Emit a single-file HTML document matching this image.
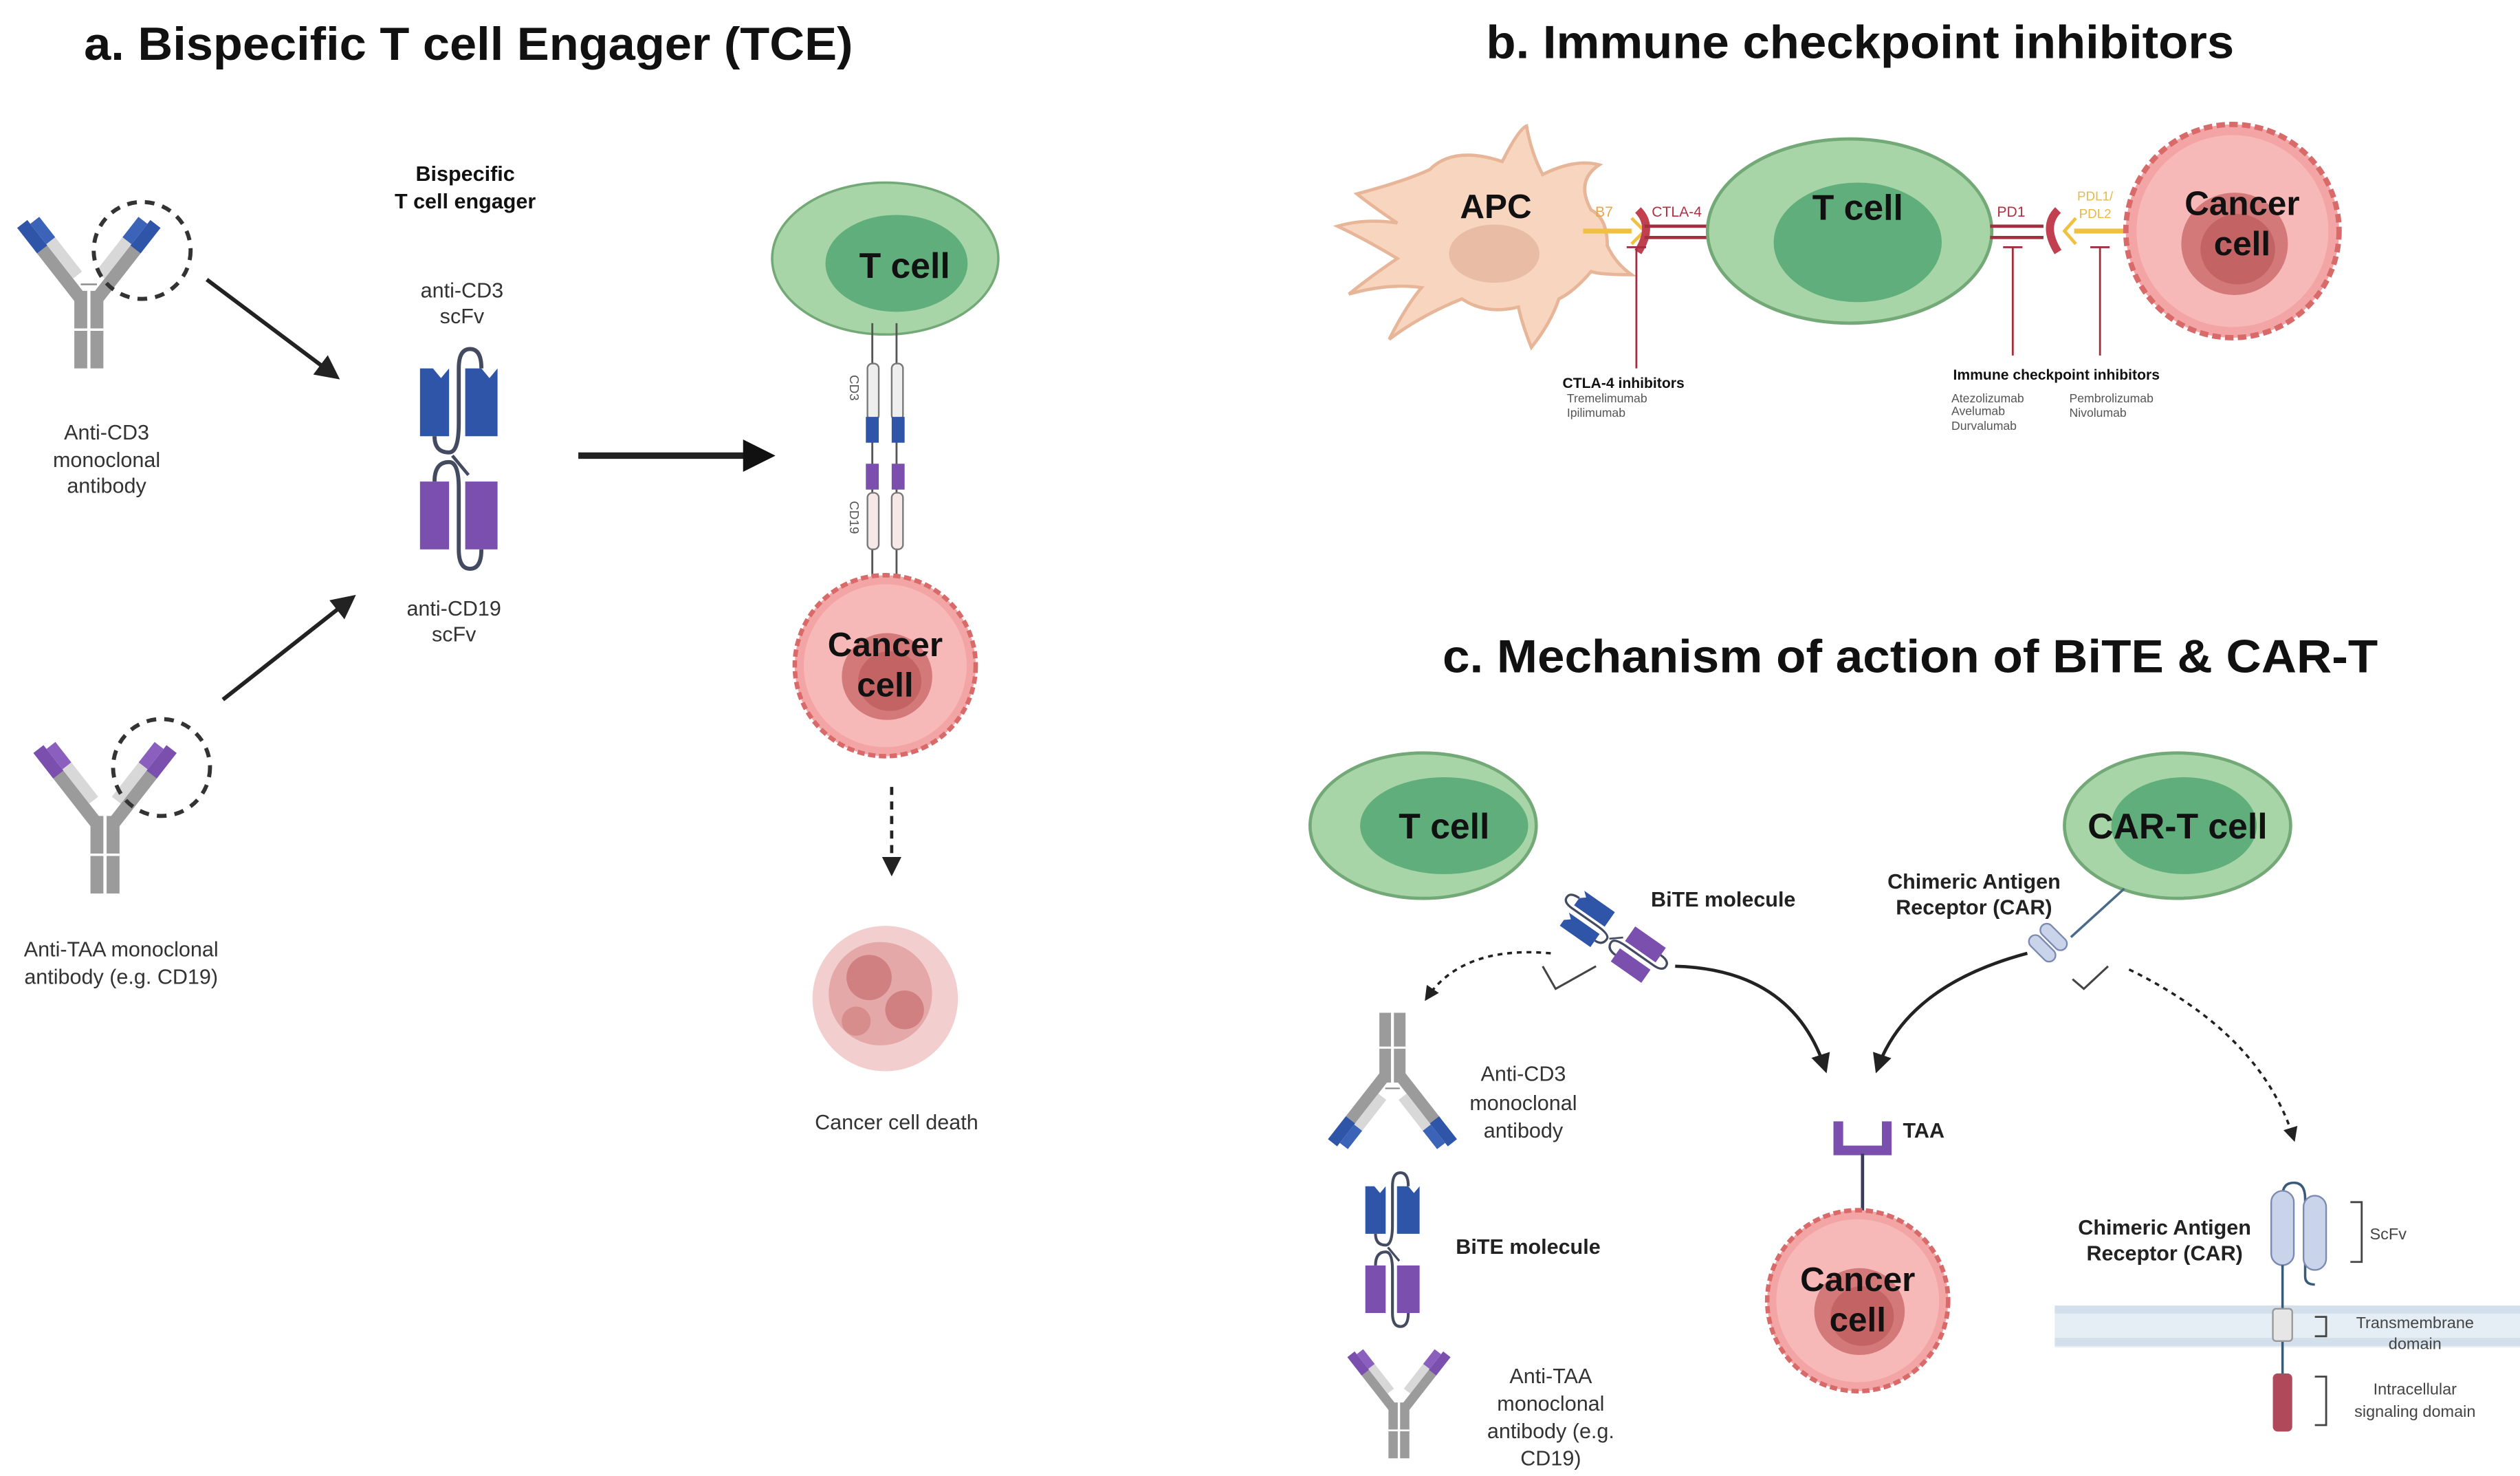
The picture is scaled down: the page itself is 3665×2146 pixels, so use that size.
<!DOCTYPE html>
<html><head><meta charset="utf-8"><style>
html,body{margin:0;padding:0;background:#fff;}
svg{display:block}
text{font-family:"Liberation Sans",sans-serif;}
</style></head><body>
<svg width="3665" height="2146" viewBox="0 0 1560 913.5" preserveAspectRatio="none" xmlns="http://www.w3.org/2000/svg">
<defs>
<marker id="ah" viewBox="0 0 10 10" refX="8" refY="5" markerWidth="6" markerHeight="6" orient="auto"><path d="M0,0 L10,5 L0,10 z" fill="#222"/></marker>
<marker id="ahb" viewBox="0 0 10 10" refX="8" refY="5" markerWidth="5" markerHeight="5" orient="auto"><path d="M0,0 L10,5 L0,10 z" fill="#111"/></marker>
<g id="abBlue">
 <rect x="-9" y="0" width="8" height="48" fill="#9b9b9b"/><rect x="1" y="0" width="8" height="48" fill="#9b9b9b"/>
 <line x1="-9" y1="24" x2="9" y2="24" stroke="#fff" stroke-width="1.5"/>
 <line x1="-5" y1="-4" x2="5" y2="-4" stroke="#888" stroke-width="1"/>
 <g transform="rotate(-38)"><rect x="-11" y="-40" width="8" height="40" fill="#9b9b9b"/><rect x="-3" y="-40" width="7" height="28" fill="#d8d8d8"/><rect x="-11" y="-58" width="8" height="20" fill="#2f55a8"/><rect x="-3" y="-55" width="7" height="16" fill="#3b63b8"/></g>
 <g transform="rotate(38)"><rect x="3" y="-40" width="8" height="40" fill="#9b9b9b"/><rect x="-4" y="-40" width="7" height="28" fill="#d8d8d8"/><rect x="3" y="-58" width="8" height="20" fill="#2f55a8"/><rect x="-4" y="-55" width="7" height="16" fill="#3b63b8"/></g>
</g>
<g id="abPurple">
 <rect x="-9" y="0" width="8" height="48" fill="#9b9b9b"/><rect x="1" y="0" width="8" height="48" fill="#9b9b9b"/>
 <line x1="-9" y1="24" x2="9" y2="24" stroke="#fff" stroke-width="1.5"/>
 <g transform="rotate(-38)"><rect x="-11" y="-40" width="8" height="40" fill="#9b9b9b"/><rect x="-3" y="-40" width="7" height="28" fill="#d8d8d8"/><rect x="-11" y="-58" width="8" height="20" fill="#7a4fae"/><rect x="-3" y="-55" width="7" height="16" fill="#8a5fbe"/></g>
 <g transform="rotate(38)"><rect x="3" y="-40" width="8" height="40" fill="#9b9b9b"/><rect x="-4" y="-40" width="7" height="28" fill="#d8d8d8"/><rect x="3" y="-58" width="8" height="20" fill="#7a4fae"/><rect x="-4" y="-55" width="7" height="16" fill="#8a5fbe"/></g>
</g>
<g id="bite">
 <path d="M-24,-44 L-24,-2 L-6,-2 L-6,-44 L-11,-38 L-16,-44 z" fill="#2f55a8"/>
 <path d="M4,-44 L4,-2 L24,-2 L24,-44 L19,-38 L14,-44 z" fill="#2f55a8"/>
 <path d="M-15,-2 Q-15,8 -6,8 Q0,8 0,-10 L0,-44 Q0,-56 7,-56 Q14,-56 14,-44" fill="none" stroke="#444a60" stroke-width="2.5"/>
 <line x1="-4" y1="10" x2="6" y2="22" stroke="#444a60" stroke-width="2"/>
 <path d="M-24,26 L-24,68 L-6,68 L-6,26 z" fill="#7a4fae"/>
 <path d="M4,26 L4,68 L24,68 L24,26 z" fill="#7a4fae"/>
 <path d="M-15,26 Q-15,14 -6,14 Q0,14 0,30 L0,68 Q0,80 7,80 Q14,80 14,68" fill="none" stroke="#444a60" stroke-width="2.5"/>
</g>
<g id="cancer">
 <circle r="1" fill="#f3a5a5" stroke="#d86a6a" stroke-width="0.05" stroke-dasharray="0.08 0.04"/>
 <circle r="0.9" fill="#f6b9b7"/>
 <ellipse cx="0.02" cy="0.12" rx="0.5" ry="0.48" fill="#d4797a"/>
 <ellipse cx="0.05" cy="0.17" rx="0.35" ry="0.33" fill="#c36364"/>
</g>
</defs>

<!-- Titles -->
<text x="52" y="37" font-size="29" font-weight="bold" fill="#111" textLength="476" lengthAdjust="spacingAndGlyphs">a. Bispecific T cell Engager (TCE)</text>
<text x="920" y="36" font-size="29" font-weight="bold" fill="#111" textLength="463" lengthAdjust="spacingAndGlyphs">b. Immune checkpoint inhibitors</text>
<text x="893" y="416" font-size="29" font-weight="bold" fill="#111" textLength="579" lengthAdjust="spacingAndGlyphs">c. Mechanism of action of BiTE &amp; CAR-T</text>

<!-- Panel a -->
<use href="#abBlue" transform="translate(55,180)"/>
<circle cx="88" cy="155" r="30" fill="none" stroke="#333" stroke-width="2.5" stroke-dasharray="6 5"/>
<text font-size="13" fill="#333" text-anchor="middle"><tspan x="66" y="272">Anti-CD3</tspan><tspan x="66" y="289">monoclonal</tspan><tspan x="66" y="305">antibody</tspan></text>
<line x1="128" y1="173" x2="208" y2="233" stroke="#222" stroke-width="2.5" marker-end="url(#ah)"/>
<use href="#abPurple" transform="translate(65,505)"/>
<circle cx="100" cy="475" r="30" fill="none" stroke="#333" stroke-width="2.5" stroke-dasharray="6 5"/>
<text font-size="13" fill="#333" text-anchor="middle"><tspan x="75" y="592">Anti-TAA monoclonal</tspan><tspan x="75" y="609">antibody (e.g. CD19)</tspan></text>
<line x1="138" y1="433" x2="218" y2="370" stroke="#222" stroke-width="2.5" marker-end="url(#ah)"/>
<text font-size="13" font-weight="bold" fill="#111" text-anchor="middle"><tspan x="288" y="112">Bispecific</tspan><tspan x="288" y="129">T cell engager</tspan></text>
<text font-size="13" fill="#333" text-anchor="middle"><tspan x="286" y="184">anti-CD3</tspan><tspan x="286" y="200">scFv</tspan></text>
<use href="#bite" transform="translate(284,272)"/>
<text font-size="13" fill="#333" text-anchor="middle"><tspan x="281" y="381">anti-CD19</tspan><tspan x="281" y="397">scFv</tspan></text>
<line x1="358" y1="282" x2="476" y2="282" stroke="#222" stroke-width="4" marker-end="url(#ahb)"/>
<ellipse cx="548" cy="160" rx="70" ry="47" fill="#a8d5a8" stroke="#73a877" stroke-width="1.5"/>
<ellipse cx="555" cy="163" rx="44" ry="30" fill="#5fae7c"/>
<text x="560" y="172" font-size="22" font-weight="bold" fill="#111" text-anchor="middle">T cell</text>
<line x1="540" y1="200" x2="540" y2="362" stroke="#555" stroke-width="1.2"/>
<line x1="555" y1="200" x2="555" y2="362" stroke="#555" stroke-width="1.2"/>
<rect x="537" y="225" width="7" height="35" rx="3" fill="#eee" stroke="#777"/>
<rect x="552" y="225" width="7" height="35" rx="3" fill="#eee" stroke="#777"/>
<rect x="536" y="258" width="8" height="16" fill="#2f55a8"/><rect x="552" y="258" width="8" height="16" fill="#2f55a8"/>
<rect x="536" y="287" width="8" height="16" fill="#7a4fae"/><rect x="552" y="287" width="8" height="16" fill="#7a4fae"/>
<rect x="537" y="305" width="7" height="35" rx="3" fill="#f7e8e8" stroke="#777"/>
<rect x="552" y="305" width="7" height="35" rx="3" fill="#f7e8e8" stroke="#777"/>
<text font-size="8" fill="#555" transform="translate(526,232) rotate(90)">CD3</text>
<text font-size="8" fill="#555" transform="translate(526,310) rotate(90)">CD19</text>
<use href="#cancer" transform="translate(548,412) scale(56)"/>
<text font-size="21" font-weight="bold" fill="#111" text-anchor="middle"><tspan x="548" y="406">Cancer</tspan><tspan x="548" y="431">cell</tspan></text>
<line x1="552" y1="487" x2="552" y2="540" stroke="#222" stroke-width="2" stroke-dasharray="5 4" marker-end="url(#ah)"/>
<g opacity="0.85">
<circle cx="548" cy="618" r="45" fill="#f1c6c6"/>
<circle cx="545" cy="615" r="32" fill="#e09a9a"/>
<circle cx="538" cy="605" r="14" fill="#c86a6a"/><circle cx="560" cy="625" r="12" fill="#c86a6a"/><circle cx="530" cy="632" r="9" fill="#d27a7a"/>
</g>
<text x="555" y="699" font-size="13" fill="#333" text-anchor="middle">Cancer cell death</text>

<!-- Panel b -->
<path d="M840,120 Q870,112 885,105 Q900,90 930,100 Q940,80 945,78 Q948,95 955,108 Q975,98 990,102 Q975,112 985,130 Q995,135 995,152 Q1000,163 1010,170 Q990,170 985,168 Q975,180 965,185 Q960,200 948,215 Q942,200 940,190 Q920,195 905,185 Q880,195 860,210 Q870,190 880,178 Q860,175 835,182 Q850,170 865,160 Q845,148 828,140 Q845,135 865,138 Q850,128 840,120z" fill="#f8d5bf" stroke="#e7b699" stroke-width="2"/>
<ellipse cx="925" cy="157" rx="28" ry="18" fill="#e8bca5"/>
<text x="926" y="135" font-size="21" font-weight="bold" fill="#111" text-anchor="middle">APC</text>
<line x1="980" y1="143" x2="1010" y2="143" stroke="#f0c040" stroke-width="3"/>
<path d="M1010,135 L1018,143 L1010,151" fill="none" stroke="#f0c040" stroke-width="2"/>
<path d="M1014,130 Q1024,140 1014,156" fill="none" stroke="#c04050" stroke-width="5"/>
<line x1="1018" y1="140" x2="1060" y2="140" stroke="#a03040" stroke-width="2"/>
<line x1="1018" y1="147" x2="1060" y2="147" stroke="#a03040" stroke-width="2"/>
<text x="993" y="134" font-size="9" fill="#e8a54a" text-anchor="middle">B7</text>
<text x="1038" y="134" font-size="9" fill="#b03040" text-anchor="middle">CTLA-4</text>
<ellipse cx="1145" cy="143" rx="88" ry="57" fill="#a8d5a8" stroke="#73a877" stroke-width="2"/>
<ellipse cx="1150" cy="150" rx="52" ry="37" fill="#5fae7c"/>
<text x="1150" y="136" font-size="22" font-weight="bold" fill="#111" text-anchor="middle">T cell</text>
<line x1="1232" y1="140" x2="1265" y2="140" stroke="#a03040" stroke-width="2"/>
<line x1="1232" y1="147" x2="1265" y2="147" stroke="#a03040" stroke-width="2"/>
<path d="M1274,130 Q1264,140 1274,156" fill="none" stroke="#c04050" stroke-width="5"/>
<path d="M1285,135 L1278,143 L1285,151" fill="none" stroke="#f0c040" stroke-width="2"/>
<line x1="1284" y1="143" x2="1318" y2="143" stroke="#f0c040" stroke-width="3"/>
<text x="1245" y="134" font-size="9" fill="#b03040" text-anchor="middle">PD1</text>
<text font-size="8" fill="#e8b84a" text-anchor="middle"><tspan x="1297" y="124">PDL1/</tspan><tspan x="1297" y="135">PDL2</tspan></text>
<use href="#cancer" transform="translate(1382,143) scale(66)"/>
<text font-size="21" font-weight="bold" fill="#111" text-anchor="middle"><tspan x="1388" y="133">Cancer</tspan><tspan x="1388" y="158">cell</tspan></text>
<g stroke="#a03040" stroke-width="1.2">
<line x1="1013" y1="153" x2="1013" y2="228"/><line x1="1007" y1="153" x2="1019" y2="153"/>
<line x1="1246" y1="153" x2="1246" y2="220"/><line x1="1240" y1="153" x2="1252" y2="153"/>
<line x1="1300" y1="153" x2="1300" y2="220"/><line x1="1294" y1="153" x2="1306" y2="153"/>
</g>
<text x="1005" y="240" font-size="9" font-weight="bold" fill="#111" text-anchor="middle">CTLA-4 inhibitors</text>
<text font-size="7.5" fill="#555"><tspan x="970" y="249">Tremelimumab</tspan><tspan x="970" y="258">Ipilimumab</tspan></text>
<text x="1273" y="235" font-size="9" font-weight="bold" fill="#111" text-anchor="middle">Immune checkpoint inhibitors</text>
<text font-size="7.5" fill="#555"><tspan x="1208" y="249">Atezolizumab</tspan><tspan x="1208" y="257">Avelumab</tspan><tspan x="1208" y="266">Durvalumab</tspan></text>
<text font-size="7.5" fill="#555"><tspan x="1281" y="249">Pembrolizumab</tspan><tspan x="1281" y="258">Nivolumab</tspan></text>

<!-- Panel c -->
<ellipse cx="881" cy="511" rx="70" ry="45" fill="#a8d5a8" stroke="#73a877" stroke-width="2"/>
<ellipse cx="894" cy="511" rx="52" ry="30" fill="#5fae7c"/>
<text x="894" y="519" font-size="22" font-weight="bold" fill="#111" text-anchor="middle">T cell</text>
<ellipse cx="1348" cy="511" rx="70" ry="45" fill="#a8d5a8" stroke="#73a877" stroke-width="2"/>
<ellipse cx="1352" cy="511" rx="45" ry="30" fill="#5fae7c"/>
<text x="1348" y="519" font-size="22" font-weight="bold" fill="#111" text-anchor="middle">CAR-T cell</text>
<use href="#bite" transform="translate(993,576) rotate(-55) scale(0.55)"/>
<text x="1022" y="561" font-size="13" font-weight="bold" fill="#222">BiTE molecule</text>
<text font-size="13" font-weight="bold" fill="#222" text-anchor="middle"><tspan x="1222" y="550">Chimeric Antigen</tspan><tspan x="1222" y="566">Receptor (CAR)</tspan></text>
<line x1="1315" y1="550" x2="1282" y2="580" stroke="#4a6a8a" stroke-width="1.5"/>
<g transform="translate(1272,582) rotate(45)"><rect x="-12" y="-5" width="20" height="8" rx="4" fill="#c9d3ea" stroke="#7a8ab0"/><rect x="-12" y="5" width="20" height="8" rx="4" fill="#c9d3ea" stroke="#7a8ab0"/></g>
<path d="M955,598 L963,612 L988,598" fill="none" stroke="#444" stroke-width="1.3"/>
<path d="M1283,606 L1290,612 L1305,598" fill="none" stroke="#444" stroke-width="1.3"/>
<path d="M960,590 Q905,585 883,618" fill="none" stroke="#222" stroke-width="1.5" stroke-dasharray="3 3" marker-end="url(#ah)"/>
<path d="M1318,600 Q1400,640 1420,705" fill="none" stroke="#222" stroke-width="1.5" stroke-dasharray="3 3" marker-end="url(#ah)"/>
<path d="M1037,598 Q1110,600 1130,662" fill="none" stroke="#222" stroke-width="2" marker-end="url(#ah)"/>
<path d="M1255,590 Q1180,610 1162,662" fill="none" stroke="#222" stroke-width="2" marker-end="url(#ah)"/>
<use href="#abBlue" transform="translate(862,670) rotate(180) scale(0.9)"/>
<text font-size="13" fill="#333" text-anchor="middle"><tspan x="943" y="669">Anti-CD3</tspan><tspan x="943" y="687">monoclonal</tspan><tspan x="943" y="704">antibody</tspan></text>
<use href="#bite" transform="translate(862,765) scale(0.7)"/>
<text x="946" y="776" font-size="13" font-weight="bold" fill="#222" text-anchor="middle">BiTE molecule</text>
<use href="#abPurple" transform="translate(866,868) scale(0.72)"/>
<text font-size="13" fill="#333" text-anchor="middle"><tspan x="960" y="856">Anti-TAA</tspan><tspan x="960" y="873">monoclonal</tspan><tspan x="960" y="890">antibody (e.g.</tspan><tspan x="960" y="907">CD19)</tspan></text>
<path d="M1138,694 L1138,712 L1168,712 L1168,694" fill="none" stroke="#7a4fae" stroke-width="6"/>
<line x1="1153" y1="714" x2="1153" y2="760" stroke="#3a3a5a" stroke-width="2"/>
<text x="1178" y="704" font-size="13" font-weight="bold" fill="#222">TAA</text>
<use href="#cancer" transform="translate(1150,805) scale(56)"/>
<text font-size="21" font-weight="bold" fill="#111" text-anchor="middle"><tspan x="1150" y="799">Cancer</tspan><tspan x="1150" y="824">cell</tspan></text>
<rect x="1272" y="808" width="288" height="26" fill="#e6eef5"/>
<rect x="1272" y="808" width="288" height="5" fill="#d3e0ec"/>
<rect x="1272" y="828" width="288" height="5" fill="#d3e0ec"/>
<path d="M1413,785 L1413,740 Q1413,732 1420,732 Q1427,732 1427,742 L1427,790 Q1427,795 1433,795" fill="none" stroke="#3a5a7a" stroke-width="1.5"/>
<rect x="1406" y="737" width="14" height="46" rx="7" fill="#c9d3ea" stroke="#7a8ab0"/>
<rect x="1426" y="740" width="14" height="46" rx="7" fill="#c9d3ea" stroke="#7a8ab0"/>
<line x1="1413" y1="783" x2="1413" y2="855" stroke="#3a5a7a" stroke-width="1.5"/>
<rect x="1407" y="810" width="12" height="20" rx="2" fill="#e6e6e6" stroke="#999"/>
<rect x="1407" y="850" width="12" height="36" rx="3" fill="#b04a5a"/>
<text font-size="13" font-weight="bold" fill="#222" text-anchor="middle"><tspan x="1340" y="764">Chimeric Antigen</tspan><tspan x="1340" y="780">Receptor (CAR)</tspan></text>
<g fill="none" stroke="#444" stroke-width="1.2">
<path d="M1455,744 L1462,744 L1462,781 L1455,781"/>
<path d="M1433,815 L1440,815 L1440,827 L1433,827"/>
<path d="M1433,852 L1440,852 L1440,882 L1433,882"/>
</g>
<text x="1467" y="767" font-size="10" fill="#444">ScFv</text>
<text font-size="10" fill="#444" text-anchor="middle"><tspan x="1495" y="822">Transmembrane</tspan><tspan x="1495" y="835">domain</tspan></text>
<text font-size="10" fill="#444" text-anchor="middle"><tspan x="1495" y="863">Intracellular</tspan><tspan x="1495" y="877">signaling domain</tspan></text>
</svg>
</body></html>
